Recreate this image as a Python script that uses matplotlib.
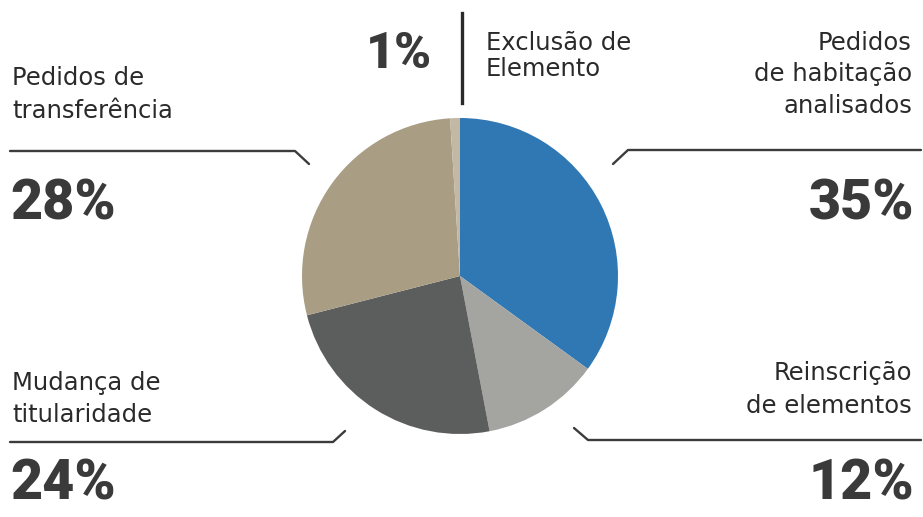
import matplotlib
matplotlib.use("Agg")
import matplotlib.pyplot as plt

categories = ["Pedidos de habitação analisados", "Reinscrição de elementos",
              "Mudança de titularidade", "Pedidos de transferência",
              "Exclusão de Elemento"]
values = [35, 12, 24, 28, 1]
colors = ["#2f78b4", "#a4a4a1", "#5c5e5d", "#a99d84", "#c2b8a4"]

W, H = 923, 517
fig = plt.figure(figsize=(W / 100, H / 100), dpi=100)
ax = fig.add_axes([0, 0, 1, 1])
ax.set_xlim(0, W)
ax.set_ylim(0, H)
ax.set_aspect("equal")
ax.axis("off")


def Y(y):
    return H - y


ax.pie(values, colors=colors, startangle=90, counterclock=False,
       center=(460, Y(276)), radius=158, frame=False,
       wedgeprops=dict(linewidth=0))
ax.set_xlim(0, W)
ax.set_ylim(0, H)

label_font = dict(family="DejaVu Sans", fontsize=17.5, color="#2a2a2a")
pct_font = dict(family="Roboto", fontsize=40, fontweight="black", color="#3a3a3a")
line_kw = dict(color="#3c3c3c", lw=1.7, solid_capstyle="round")


def label(x, first_baseline, lines, ha, step=32):
    for i, s in enumerate(lines):
        ax.text(x, Y(first_baseline + i * step), s, ha=ha, va="baseline",
                **label_font)


# top-left: transfer requests
label(12, 85, ["Pedidos de", "transferência"], "left", 33)
ax.plot([10, 295, 309], [Y(151), Y(151), Y(164)], **line_kw)
ax.text(10, Y(204), f"{values[3]}%", ha="left", va="center", **pct_font)

# top-right: housing requests
label(912, 50, ["Pedidos", "de habitação", "analisados"], "right", 31.5)
ax.plot([613, 628, 921], [Y(164), Y(150), Y(150)], **line_kw)
ax.text(914, Y(204), f"{values[0]}%", ha="right", va="center", **pct_font)

# bottom-left: change of ownership
label(12, 390, ["Mudança de", "titularidade"], "left", 32)
ax.plot([10, 333, 345], [Y(442), Y(442), Y(431)], **line_kw)
ax.text(10, Y(484), f"{values[2]}%", ha="left", va="center", **pct_font)

# bottom-right: re-registration
label(912, 380, ["Reinscrição", "de elementos"], "right", 33)
ax.plot([574, 588, 921], [Y(428), Y(440), Y(440)], **line_kw)
ax.text(914, Y(484), f"{values[1]}%", ha="right", va="center", **pct_font)

# top: exclusion
ax.text(432, Y(54), f"{values[4]}%", ha="right", va="center",
        **{**pct_font, "fontsize": 36})
ax.plot([462, 462], [Y(13), Y(103)], color="#2a2a2a", lw=2.4)
label(486, 50, ["Exclusão de", "Elemento"], "left", 26)

fig.savefig("out.png", dpi=100, facecolor="white")
